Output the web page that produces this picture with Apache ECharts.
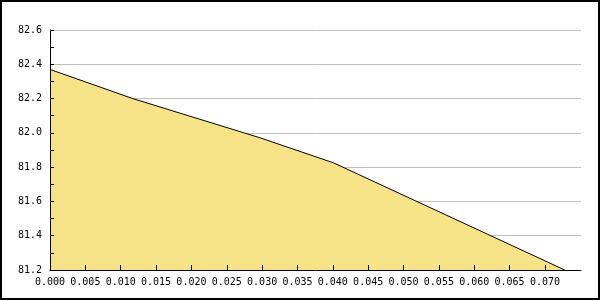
<!DOCTYPE html>
<html>
<head>
<meta charset="utf-8">
<script src="https://cdn.jsdelivr.net/npm/echarts@6/dist/echarts.min.js"></script>
<style>
html,body{margin:0;padding:0;background:#fff;}
#wrap{width:600px;height:300px;box-sizing:border-box;border:2px solid #000;position:relative;overflow:hidden;}
#chart{position:absolute;left:-2px;top:-2px;width:600px;height:300px;}
</style>
</head>
<body>
<div id="wrap"><div id="chart"></div></div>
<script>
const xValues = [0.0, 0.0117, 0.0298, 0.0401, 0.0728];
const yValues = [82.37, 82.20, 81.97, 81.825, 81.2];
const xTicks = [0.000, 0.005, 0.010, 0.015, 0.020, 0.025, 0.030, 0.035, 0.040, 0.045, 0.050, 0.055, 0.060, 0.065, 0.070];
const yMin = 81.2, yMax = 82.6, yStep = 0.2;
const xMin = 0, xMax = 0.0751;

const chart = echarts.init(document.getElementById('chart'), null, {renderer: 'canvas'});
const font = 'DejaVu Sans Mono';
chart.setOption({
  animation: false,
  backgroundColor: 'transparent',
  grid: {left: 50, right: 19, top: 30, bottom: 30, containLabel: false},
  xAxis: {
    type: 'value', min: xMin, max: xMax, z: 5,
    axisLine: {show: true, onZero: false, lineStyle: {color: '#000', width: 1}},
    axisTick: {show: true, inside: true, length: 5, lineStyle: {color: '#000'}, customValues: xTicks},
    axisLabel: {show: true, margin: 7, color: '#000', fontFamily: font, fontSize: 10,
      customValues: xTicks, formatter: v => v.toFixed(3)},
    splitLine: {show: false}
  },
  yAxis: [{
    type: 'value', min: yMin, max: yMax, interval: yStep, z: 0, position: 'left',
    axisLine: {show: false}, axisTick: {show: false}, axisLabel: {show: false},
    splitLine: {show: true, lineStyle: {color: '#c0c0c0', width: 1}}
  }, {
    type: 'value', min: yMin, max: yMax, interval: yStep, z: 5, position: 'left', offset: 0,
    axisLine: {show: true, lineStyle: {color: '#000', width: 1}},
    axisTick: {show: true, inside: true, length: 4, lineStyle: {color: '#000'}},
    minorTick: {show: true, splitNumber: 2, length: 4, lineStyle: {color: '#000'}},
    axisLabel: {margin: 8, color: '#000', fontFamily: font, fontSize: 10, formatter: v => v.toFixed(1)},
    splitLine: {show: false}
  }],
  series: [{
    type: 'line', z: 2, yAxisIndex: 0,
    data: xValues.map((x, i) => [x, yValues[i]]),
    symbol: 'none',
    lineStyle: {color: '#000', width: 1},
    areaStyle: {color: '#f6e287', opacity: 1, origin: 'start'}
  }]
});
</script>
</body>
</html>
